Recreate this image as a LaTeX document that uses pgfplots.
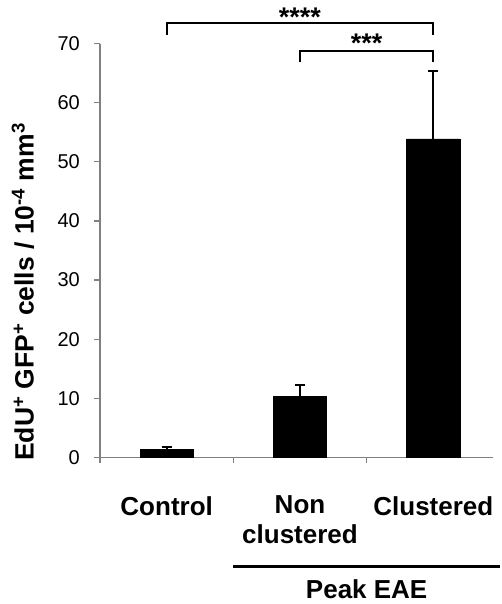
\documentclass[border=0pt]{standalone}
\usepackage{fontspec}
\setmainfont{Liberation Sans}
\usepackage{pgfplots}
\pgfplotsset{compat=1.18}
\usetikzlibrary{calc}
\definecolor{axgray}{RGB}{128,128,128}

\begin{document}
\begin{tikzpicture}
\begin{axis}[
    name=ax,
    scale only axis,
    width=393pt,
    height=413.6pt,
    xmin=-0.5, xmax=2.4475,
    ymin=0, ymax=70,
    axis lines*=left,
    axis line style={draw=axgray, line width=1.2pt},
    tick style={draw=axgray, line width=1.2pt},
    tick align=outside,
    major tick length=6pt,
    xtick={-0.5,0.5,1.5},
    xticklabels={},
    ytick={0,10,...,70},
    yticklabel style={font=\fontsize{20}{24}\selectfont, inner sep=0pt, xshift=-14pt},
    /pgf/number format/assume math mode=true,
    clip=false,
    ybar,
    bar width=53.3pt,
    bar shift=0pt,
]
\addplot[fill=black, draw=black,
    error bars/.cd, y dir=plus, y explicit,
    error bar style={line width=2pt, black},
    error mark options={rotate=90, mark size=5pt, line width=2pt, black}]
    coordinates {(0,1.35) +- (0,0.45) (1,10.3) +- (0,2.0) (2,53.9) +- (0,11.5)};

% significance brackets
\draw[line width=2pt] (axis cs:0,71.47) -- (axis cs:0,73.45) -- (axis cs:2,73.45) -- (axis cs:2,71.47);
\draw[line width=2pt] (axis cs:1,66.85) -- (axis cs:1,68.76) -- (axis cs:2,68.76) -- (axis cs:2,66.85);
\node[font=\bfseries\fontsize{27}{27}\selectfont, inner sep=0pt] at (axis cs:1,74.5) {****};
\node[font=\bfseries\fontsize{27}{27}\selectfont, inner sep=0pt] at (axis cs:1.5,70.1) {***};

% category labels
\node[font=\bfseries\fontsize{26}{30}\selectfont, anchor=base] at ([yshift=-57.7pt]axis cs:0,0) {Control};
\node[font=\bfseries\fontsize{26}{30}\selectfont, anchor=base] at ([yshift=-55.7pt]axis cs:1,0) {Non};
\node[font=\bfseries\fontsize{26}{30}\selectfont, anchor=base] at ([yshift=-85.7pt]axis cs:1,0) {clustered};
\node[font=\bfseries\fontsize{26}{30}\selectfont, anchor=base] at ([yshift=-57.7pt]axis cs:2,0) {Clustered};
\draw[line width=3.5pt] ([yshift=-109.4pt]axis cs:0.5,0) -- ([yshift=-109.4pt]axis cs:2.5,0);
\node[font=\bfseries\fontsize{26}{30}\selectfont, anchor=base] at ([yshift=-140.7pt]axis cs:1.5,0) {Peak EAE};
\end{axis}
\node[rotate=90, font=\bfseries\fontsize{26.5}{30}\selectfont, inner sep=0pt]
    at ($(ax.south west)+(-77pt,165.3pt)$)
    {EdU\textsuperscript{+} GFP\textsuperscript{+} cells / 10\textsuperscript{-4} mm\textsuperscript{3}};
\path[use as bounding box] ($(ax.south west)+(-100pt,-146.7pt)$) rectangle ($(ax.south west)+(393pt,457.3pt)$);
\end{tikzpicture}
\end{document}
